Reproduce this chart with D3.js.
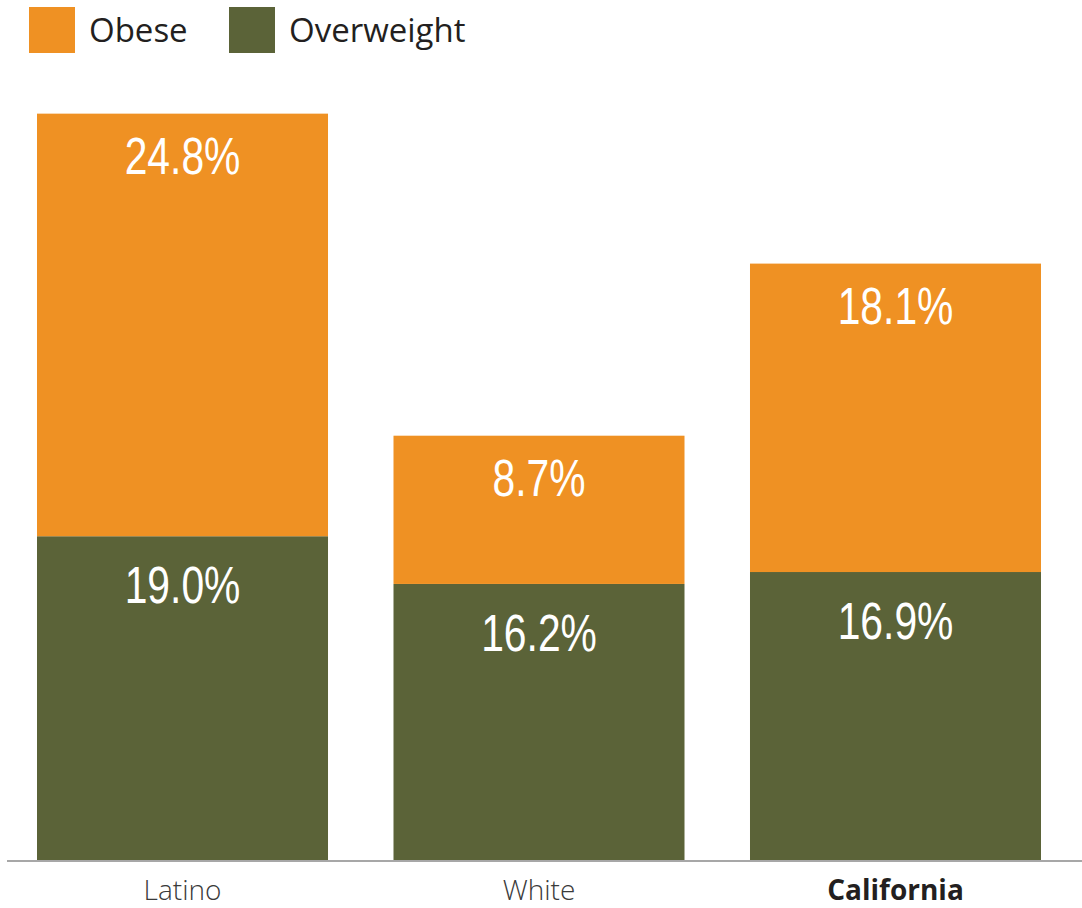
<!DOCTYPE html>
<html>
<head>
<meta charset="utf-8">
<script src="https://cdn.jsdelivr.net/npm/d3@7"></script>
<style>
  html, body { margin: 0; padding: 0; background: #fff; }
  svg { display: block; }
</style>
</head>
<body>
<svg id="chart" width="1082" height="908"></svg>
<script>
const categories = ["Latino", "White", "California"];
const overweight = [19.0, 16.2, 16.9];
const obese = [24.8, 8.7, 18.1];
const seriesNames = ["Overweight", "Obese"];
const legendNames = ["Obese", "Overweight"];

const colors = { Obese: "#EF9123", Overweight: "#5B6338" };

const svg = d3.select("#chart");
const W = 1082, H = 908;
const baseY = 860;

const x = d3.scaleBand().domain(categories).range([37, 1041]).paddingInner(0.1837).paddingOuter(0);
const y = d3.scaleLinear().domain([0, 50]).range([baseY, baseY - 17.04 * 50]);

const rows = categories.map((c, i) => ({ cat: c, Overweight: overweight[i], Obese: obese[i] }));
const stacked = d3.stack().keys(seriesNames)(rows);

const layers = svg.append("g").selectAll("g").data(stacked).join("g")
  .attr("fill", d => colors[d.key]);

layers.selectAll("rect").data(d => d).join("rect")
  .attr("x", d => x(d.data.cat))
  .attr("width", x.bandwidth())
  .attr("y", d => y(d[1]))
  .attr("height", d => y(d[0]) - y(d[1]));

// value labels (condensed look via horizontal scale)
const labelOffset = { Overweight: 67, Obese: 60 };
svg.append("g").selectAll("g").data(stacked).join("g")
  .selectAll("text").data(d => d.map(v => ({ key: d.key, v }))).join("text")
  .attr("transform", d => `translate(${x(d.v.data.cat) + x.bandwidth() / 2},${y(d.v[1]) + labelOffset[d.key]}) scale(0.8,1)`)
  .attr("text-anchor", "middle")
  .attr("fill", "#fff")
  .style("font-family", "'Liberation Sans', Arial, sans-serif")
  .style("font-size", "51px")
  .text(d => d3.format(".1f")(d.v.data[d.key]) + "%");

// axis line
svg.append("line")
  .attr("x1", 7).attr("x2", W)
  .attr("y1", baseY + 1).attr("y2", baseY + 1)
  .attr("stroke", "#8a8a8a").attr("stroke-width", 1.5);

// category labels via axis
const xAxis = svg.append("g").attr("transform", `translate(0,${baseY})`)
  .call(d3.axisBottom(x).tickSize(0).tickPadding(14));
xAxis.select(".domain").remove();
xAxis.selectAll("text")
  .style("font-family", "'Open Sans', sans-serif")
  .style("font-size", "28px")
  .attr("fill", d => d === "California" ? "#231f20" : "#3a3a3a")
  .style("font-weight", d => d === "California" ? "700" : "300")
  .attr("dy", "0.71em")
  .attr("y", 20);

// legend
const legendX = d3.scaleOrdinal().domain(legendNames).range([29, 229]);
const leg = svg.append("g").selectAll("g").data(legendNames).join("g")
  .attr("transform", d => `translate(${legendX(d)},7)`);
leg.append("rect").attr("width", 46).attr("height", 46).attr("fill", d => colors[d]);
leg.append("text")
  .attr("x", 60).attr("y", 35)
  .style("font-family", "'Open Sans', sans-serif")
  .style("font-size", "33px")
  .attr("fill", "#231f20")
  .text(d => d);
</script>
</body>
</html>
